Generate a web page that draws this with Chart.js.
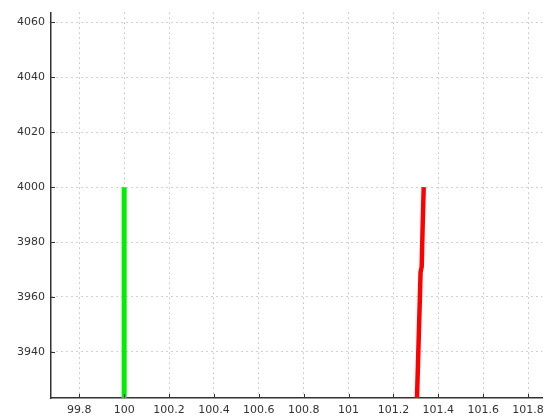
<!DOCTYPE html>
<html>
<head>
<meta charset="utf-8">
<script src="https://cdn.jsdelivr.net/npm/chart.js@4"></script>
<style>
  html, body { margin: 0; padding: 0; background: #fff; }
  #c { display: block; }
</style>
</head>
<body>
<canvas id="c" width="550" height="417"></canvas>
<script>
// Series: a straight green trace and a slightly drifting red trace
const greenX = [100, 100];
const greenY = [3923, 4000];
const redX = [101.335, 101.330, 101.326, 101.321, 101.318, 101.311, 101.305];
const redY = [4000, 3985, 3971, 3969, 3960, 3940, 3923];

// Axis limits and tick positions
const xLimits = [99.674, 101.863];
const yLimits = [3923.2, 4063.6];
const xTicks = [99.8, 100, 100.2, 100.4, 100.6, 100.8, 101, 101.2, 101.4, 101.6, 101.8];
const yTicks = [3940, 3960, 3980, 4000, 4020, 4040, 4060];

const toPoints = (xs, ys) => xs.map((x, i) => ({ x: x, y: ys[i] }));
const fmt = v => String(Math.round(v * 10) / 10);

// Short tick marks pointing into the plot area
const innerTicks = {
  id: 'innerTicks',
  afterDraw(chart) {
    const { ctx, chartArea, scales } = chart;
    ctx.save();
    ctx.strokeStyle = '#333';
    ctx.lineWidth = 1;
    ctx.beginPath();
    scales.x.ticks.forEach(t => {
      const px = Math.round(scales.x.getPixelForValue(t.value)) + 0.5;
      ctx.moveTo(px, chartArea.bottom);
      ctx.lineTo(px, chartArea.bottom - 4);
    });
    scales.y.ticks.forEach(t => {
      const py = Math.round(scales.y.getPixelForValue(t.value)) + 0.5;
      ctx.moveTo(chartArea.left, py);
      ctx.lineTo(chartArea.left + 4, py);
    });
    ctx.stroke();
    ctx.restore();
  }
};

new Chart(document.getElementById('c'), {
  type: 'line',
  data: {
    datasets: [
      {
        data: toPoints(greenX, greenY),
        borderColor: '#00ee00',
        borderWidth: 5,
        pointRadius: 0,
        tension: 0
      },
      {
        data: toPoints(redX, redY),
        borderColor: '#ff0000',
        borderWidth: 4.5,
        pointRadius: 0,
        tension: 0
      }
    ]
  },
  options: {
    responsive: false,
    animation: false,
    layout: { padding: { top: 9, right: 7, left: 0, bottom: 0 } },
    plugins: { legend: { display: false }, tooltip: { enabled: false } },
    scales: {
      x: {
        type: 'linear',
        min: xLimits[0],
        max: xLimits[1],
        afterBuildTicks: s => { s.ticks = xTicks.map(v => ({ value: v })); },
        afterFit: s => { s.height = 19; },
        grid: { color: '#a0a0a0', lineWidth: 1, drawTicks: false },
        border: { display: true, color: '#333', width: 1.5, dash: [1, 4] },
        ticks: {
          padding: 6,
          color: '#333',
          font: { family: 'DejaVu Sans', size: 11 },
          maxRotation: 0,
          autoSkip: false,
          callback: v => fmt(v)
        }
      },
      y: {
        type: 'linear',
        min: yLimits[0],
        max: yLimits[1],
        afterBuildTicks: s => { s.ticks = yTicks.map(v => ({ value: v })); },
        afterFit: s => { s.width = 51; },
        grid: { color: '#a0a0a0', lineWidth: 1, drawTicks: false },
        border: { display: true, color: '#333', width: 1.5, dash: [1, 4] },
        ticks: {
          padding: 6,
          color: '#333',
          font: { family: 'DejaVu Sans', size: 11 },
          autoSkip: false,
          callback: v => String(v)
        }
      }
    }
  },
  plugins: [innerTicks]
});
</script>
</body>
</html>
